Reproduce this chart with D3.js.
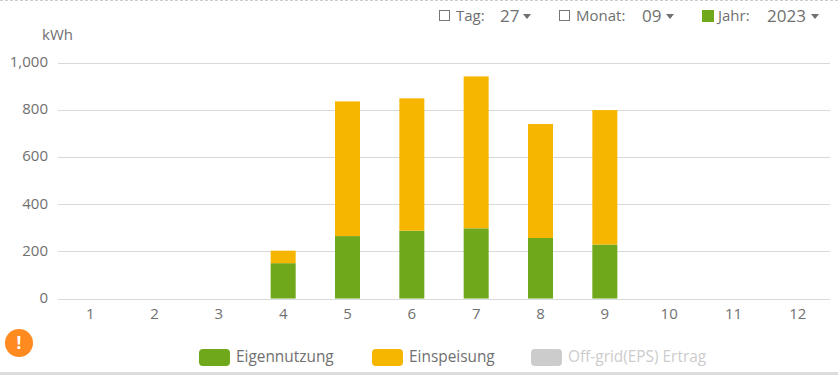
<!DOCTYPE html>
<html>
<head>
<meta charset="utf-8">
<script src="https://cdn.jsdelivr.net/npm/d3@7"></script>
<style>
  html, body { margin: 0; padding: 0; background: #fff; overflow: hidden; }
  text { font-family: "Open Sans", sans-serif; }
</style>
</head>
<body>
<svg id="chart"></svg>
<script>
const months = ["1", "2", "3", "4", "5", "6", "7", "8", "9", "10", "11", "12"];
const eigennutzung = [0, 0, 0, 150, 265, 288, 298, 257, 229, 0, 0, 0];
const einspeisung = [0, 0, 0, 53, 572, 562, 645, 484, 571, 0, 0, 0];
const yTicks = [0, 200, 400, 600, 800, 1000];
const legendNames = ["Eigennutzung", "Einspeisung", "Off-grid(EPS) Ertrag"];
const legendColors = ["#6fa81a", "#f6b600", "#cccccc"];
const legendText = ["#707070", "#707070", "#ccc"];

const W = 838, H = 375;
const margin = { top: 63, right: 8, bottom: 76.5, left: 58 };

const svg = d3.select("#chart").attr("width", W).attr("height", H);

const x = d3.scaleBand().domain(months).range([margin.left, W - margin.right]);
const y = d3.scaleLinear().domain([0, 1000]).range([H - margin.bottom, margin.top]);

// page frame: dashed line on top, grey strip at the bottom
svg.append("line").attr("x1", 0).attr("x2", W).attr("y1", 0.5).attr("y2", 0.5)
    .attr("stroke", "#ccc").attr("stroke-dasharray", "3,2");
svg.append("rect").attr("x", 0).attr("y", 372).attr("width", W).attr("height", 3).attr("fill", "#ddd");

// gridlines
svg.append("g").selectAll("line").data(yTicks).enter().append("line")
    .attr("x1", margin.left).attr("x2", W - margin.right)
    .attr("y1", d => Math.round(y(d)) + 0.5).attr("y2", d => Math.round(y(d)) + 0.5)
    .attr("stroke", "#d9d9d9");

// y tick labels
svg.append("g").selectAll("text").data(yTicks).enter().append("text")
    .attr("x", 48).attr("y", d => y(d) - 1).attr("dy", "0.35em")
    .attr("text-anchor", "end").attr("fill", "#707070").style("font-size", "15px")
    .text(d => d3.format(",")(d));

svg.append("text").attr("x", 42).attr("y", 40).attr("fill", "#707070")
    .style("font-size", "15px").text("kWh");

// x tick labels
svg.append("g").selectAll("text").data(months).enter().append("text")
    .attr("x", d => x(d) + x.bandwidth() / 2).attr("y", 319)
    .attr("text-anchor", "middle").attr("fill", "#707070").style("font-size", "15px")
    .text(d => d);

// stacked bars
const barW = 25;
const rows = months.map((m, i) => ({ month: m, own: eigennutzung[i], feed: einspeisung[i] }));
const stacked = d3.stack().keys(["own", "feed"])(rows);
svg.append("g").selectAll("g").data(stacked).enter().append("g")
    .attr("fill", (d, i) => legendColors[i])
    .selectAll("rect").data(d => d.filter(s => s[1] > s[0])).enter().append("rect")
    .attr("x", d => x(d.data.month) + (x.bandwidth() - barW) / 2)
    .attr("width", barW)
    .attr("y", d => y(d[1]))
    .attr("height", d => y(d[0]) - y(d[1]));

// legend
const legendX = [199, 372, 531];
const legend = svg.append("g").selectAll("g").data(legendNames).enter().append("g")
    .attr("transform", (d, i) => `translate(${legendX[i]},349)`);
legend.append("rect").attr("width", 31).attr("height", 17).attr("rx", 4)
    .attr("fill", (d, i) => legendColors[i]);
legend.append("text").attr("x", 37).attr("y", 13)
    .attr("fill", (d, i) => legendText[i]).style("font-size", "15.4px").text(d => d);

// warning badge
svg.append("circle").attr("cx", 19).attr("cy", 343).attr("r", 14).attr("fill", "#ff8a1f");
svg.append("text").attr("x", 19).attr("y", 349).attr("text-anchor", "middle")
    .attr("fill", "#fff").style("font-size", "17px").style("font-weight", "bold").text("!");

// date selectors
const selectors = [
    { label: "Tag:", value: "27", box: 439, labelX: 456, valueX: 500, arrow: 527, on: false },
    { label: "Monat:", value: "09", box: 559, labelX: 576, valueX: 642, arrow: 670, on: false },
    { label: "Jahr:", value: "2023", box: 702, labelX: 718, valueX: 767, arrow: 815, on: true }
];
const sel = svg.append("g").selectAll("g").data(selectors).enter().append("g");
sel.append("rect").attr("x", d => d.box + 0.5).attr("y", 10.5)
    .attr("width", d => d.on ? 11 : 10).attr("height", d => d.on ? 11 : 10)
    .attr("fill", d => d.on ? "#6fa81a" : "#fff")
    .attr("stroke", d => d.on ? "#6fa81a" : "#777");
sel.append("text").attr("x", d => d.labelX).attr("y", 21)
    .attr("fill", "#707070").style("font-size", "15px").text(d => d.label);
sel.append("text").attr("x", d => d.valueX).attr("y", 22)
    .attr("fill", "#707070").style("font-size", "17px").text(d => d.value);
sel.append("path")
    .attr("d", d => `M${d.arrow - 4},14 h8 l-4,5 z`)
    .attr("fill", "#707070");
</script>
</body>
</html>
